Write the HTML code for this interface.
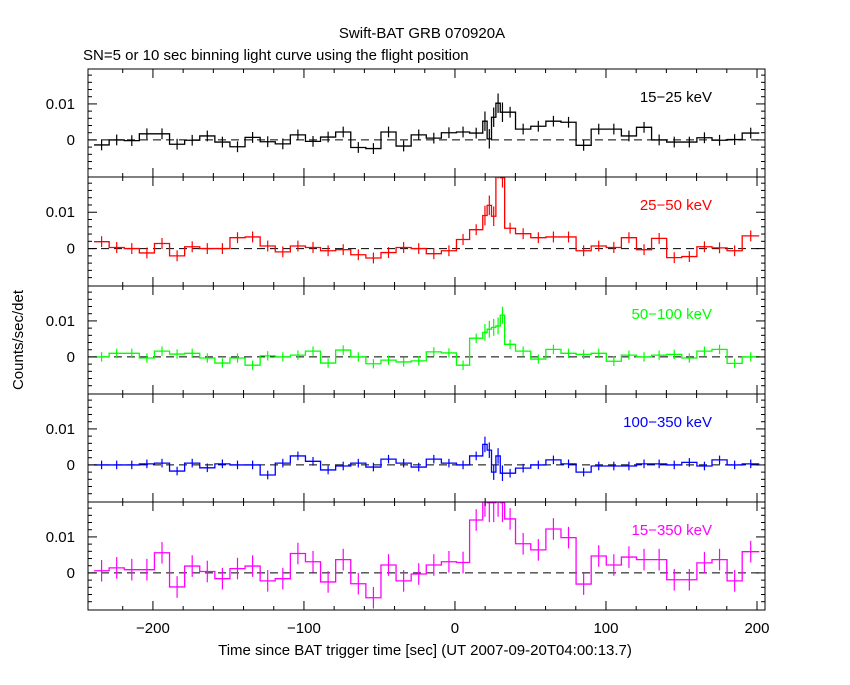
<!DOCTYPE html>
<html><head><meta charset="utf-8"><style>
body{margin:0;background:#fff;width:850px;height:680px;overflow:hidden}
svg text{font-family:"Liberation Sans",sans-serif;font-size:15px}
</style></head><body>
<svg id="c" width="850" height="680" xmlns="http://www.w3.org/2000/svg">
<text x="422" y="38" text-anchor="middle">Swift-BAT GRB 070920A</text>
<text x="83" y="60">SN=5 or 10 sec binning light curve using the flight position</text>
<text transform="translate(23,340) rotate(-90)" text-anchor="middle">Counts/sec/det</text>
<text x="425" y="655" text-anchor="middle">Time since BAT trigger time [sec] (UT 2007-09-20T04:00:13.7)</text>
</svg>
<script>
const edges=[-239,-229,-219,-209,-199,-189,-179,-169,-159,-149,-139,-129,-119,-109,-99,-89,-79,-69,-59,-49,-39,-29,-19,-9,1,9.7,18.4,21.3,24.2,27.1,30,32.9,40.1,50.2,60.2,70.2,80.2,90.2,100.2,110.2,120.2,130.2,140.2,150.2,160.2,170.2,180.2,190.2,201.5];
const band1=[-1.4,0,-0.2,1.7,1.7,-1.2,-0.1,1.1,-0.6,-1.9,0.7,-0.5,-1.1,1.4,-0.4,0.8,2.2,-2.1,-2.4,2.2,-1.7,1.4,0.5,2.0,2.2,1.9,5.2,0.3,6.3,10.2,7.7,7.7,3.0,3.8,5.2,4.9,-1.5,3.0,3.0,1.1,3.5,0,-0.6,-0.6,0.6,-0.1,0.1,1.9];
const band2=[1.9,0.3,0,-1.2,1.4,-2.0,0.5,0,0,3.0,3.2,0.7,-0.9,0.7,0.3,-0.6,-0.3,-1.7,-2.6,-1.1,0.3,0,-1.4,-0.6,2.5,5.2,9.1,11.9,8.9,22,19.5,5.6,4.1,3.0,3.2,3.2,-0.6,0.7,0.3,3.0,-0.3,2.8,-2.5,-2.2,0.5,0.2,-0.6,3.5];
const band3=[0,1.0,1.0,-0.3,1.6,0.8,1.0,-0.3,-1.7,-0.3,-2.3,0.3,0,0.5,1.6,-1.7,1.9,0,-1.9,-0.9,-1.4,-1.1,1.4,1.1,-2.3,5.2,6.8,7.7,8.2,8.6,11.6,3.5,1.6,-0.6,2.1,1.0,0.7,1.0,-1.2,0.5,0,0.5,0.7,-0.3,1.6,2.1,-1.8,0];
const band4=[0,0,0,0.3,0.5,-1.7,0.5,-0.8,0.3,0,0,-2.8,0.5,2.5,1.0,-1.4,-0.3,0.5,-0.6,1.6,0.5,-0.6,1.6,0.5,0,2.5,5.7,4.1,-2.0,2.5,-2.3,-2.3,-0.9,0,1.4,0.3,-2.0,-0.3,-0.3,-0.3,0.3,0.3,0,0.7,-0.3,1.4,0,0.3];
const band5=[0.6,1.4,0.9,0.9,5.6,-3.9,1.9,0.4,-1.6,1.2,1.9,-2.2,-1.6,5.4,3.1,-2.5,3.7,-3.0,-6.9,2.2,-2.2,-0.3,2.2,3.1,2.9,14.7,21,19.5,19.5,21,19.5,15,8.1,6.4,12.2,9.8,-3.1,4.7,2.2,4.4,3.7,3.7,-1.9,-1.9,2.8,3.7,-2.2,5.9];
const errs=[1.5,1.5,1.3,1.2,3.0];
const bandNames=["15\u221225 keV","25\u221250 keV","50\u2212100 keV","100\u2212350 keV","15\u2212350 keV"];
const colors=["#000","#f00","#0f0","#00f","#f0f"];
const xTicks=[-200,-100,0,100,200];
const yTickLabels=["0","0.01"];
const NS="http://www.w3.org/2000/svg",svg=document.getElementById('c');
const X0=88,X1=765,tMin=-243,tMax=205.3;
const xs=t=>X0+(t-tMin)/(tMax-tMin)*(X1-X0);
const bounds=[69,177,286,394,502,610],yMax=19.7,yMin=-10.3;
function el(tag,a,p){const e=document.createElementNS(NS,tag);for(const k in a)e.setAttribute(k,a[k]);(p||svg).appendChild(e);return e;}
const bands=[band1,band2,band3,band4,band5];
bands.forEach((vals,i)=>{
  const top=bounds[i],bot=bounds[i+1],H=bot-top;
  const ys=v=>top+(yMax-v)/(yMax-yMin)*H;
  const g=el('g',{});
  
  
  const cp=el('clipPath',{id:'cp'+i},g);el('rect',{x:X0,y:top,width:X1-X0,height:H},cp);
  el('line',{x1:X0,x2:X1,y1:ys(0),y2:ys(0),stroke:'#000','stroke-dasharray':'8,5','stroke-width':1},g);
  let d='';
  vals.forEach((v,k)=>{const a=xs(edges[k]),b=xs(edges[k+1]),y=ys(v);d+=(k?'L':'M')+a+','+y+'L'+b+','+y;});
  const s=el('g',{'clip-path':'url(#cp'+i+')'},g);
  const p=el('path',{d:d,fill:'none',stroke:colors[i],'stroke-width':1.3},s);
  
  
  vals.forEach((v,k)=>{const m=xs((edges[k]+edges[k+1])/2);const fine=(edges[k+1]-edges[k])<5?1.8:1;const e=errs[i]*fine;
    el('line',{x1:m,x2:m,y1:ys(v-e),y2:ys(v+e),stroke:colors[i],'stroke-width':1.2},s);});
  el('rect',{x:X0,y:top,width:X1-X0,height:H,fill:'none',stroke:'#000','stroke-width':1},g);
  for(let t=-220;t<=200;t+=20){const x=xs(t),L=(t%100===0)?9:4;
    el('line',{x1:x,x2:x,y1:top,y2:top+L,stroke:'#000'},g);el('line',{x1:x,x2:x,y1:bot,y2:bot-L,stroke:'#000'},g);}
  for(let v=-8;v<=18;v+=2){const y=ys(v),L=(v%10===0)?9:4;
    el('line',{x1:X0,x2:X0+L,y1:y,y2:y,stroke:'#000'},g);el('line',{x1:X1,x2:X1-L,y1:y,y2:y,stroke:'#000'},g);}
  yTickLabels.forEach((lab,j)=>{const t=el('text',{x:75,y:ys(j*10)+5,'text-anchor':'end'},g);t.textContent=lab;
    
    });
  const lt=el('text',{x:712,y:top+33,'text-anchor':'end',fill:colors[i]},g);lt.textContent=bandNames[i];
  
  
});
xTicks.forEach(t=>{const e=el('text',{x:xs(t),y:633,'text-anchor':'middle'});e.textContent=t===0?'0':String(t).replace('-','\u2212');
  
  });
</script>
</body></html>
